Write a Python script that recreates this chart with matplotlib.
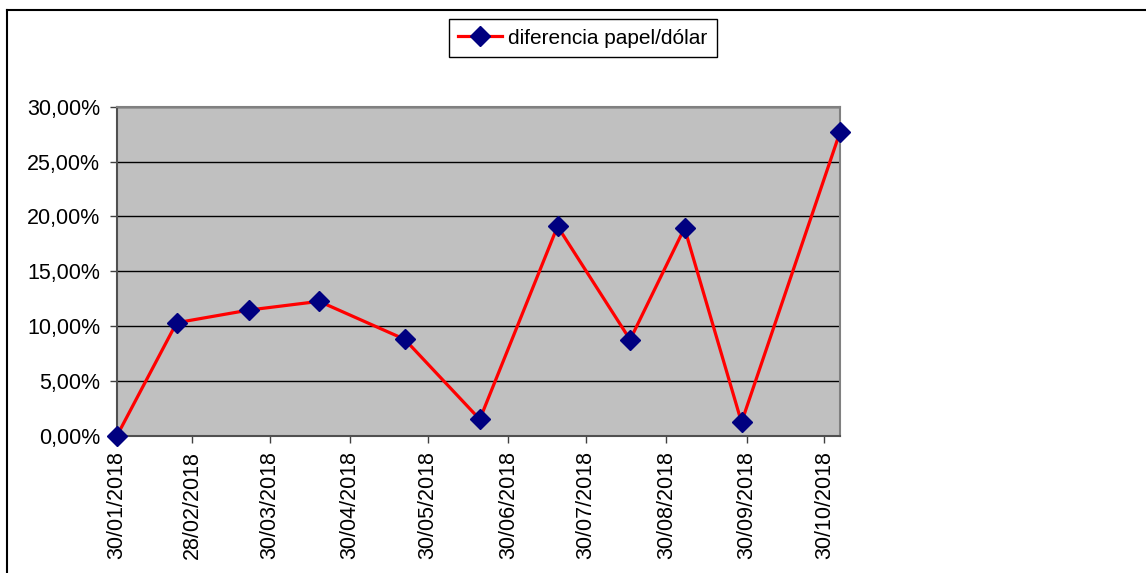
import matplotlib
matplotlib.use("Agg")
import matplotlib.pyplot as plt
import matplotlib.dates as mdates
from matplotlib.ticker import FuncFormatter
from matplotlib.lines import Line2D
from datetime import date

plt.rcParams['font.family'] = ['Liberation Sans', 'DejaVu Sans']

# data
fechas = [date(2018, 1, 30), date(2018, 2, 22), date(2018, 3, 22), date(2018, 4, 18),
          date(2018, 5, 21), date(2018, 6, 19), date(2018, 7, 19), date(2018, 8, 16),
          date(2018, 9, 6), date(2018, 9, 28), date(2018, 11, 5)]
diferencia = [0.0, 10.3, 11.46, 12.25, 8.79, 1.49, 19.09, 8.75, 18.93, 1.22, 27.68]

tick_fechas = [date(2018, 1, 30), date(2018, 2, 28), date(2018, 3, 30), date(2018, 4, 30),
               date(2018, 5, 30), date(2018, 6, 30), date(2018, 7, 30), date(2018, 8, 30),
               date(2018, 9, 30), date(2018, 10, 30)]
y_ticks = [0, 5, 10, 15, 20, 25, 30]

W, H = 1146, 573
fig = plt.figure(figsize=(W / 100, H / 100), dpi=100)
ax = fig.add_axes([117 / W, 1 - 435.7 / H, (840 - 117) / W, (435.7 - 106.7) / H])
ax.set_facecolor('#C0C0C0')

ax.plot(fechas, diferencia, color='red', lw=2.3, marker='D', ms=10,
        mfc='#000080', mec='#000080', zorder=3, clip_on=False,
        label='diferencia papel/dólar')

ax.set_xlim(fechas[0], fechas[-1])
ax.set_ylim(0, 30)
ax.set_yticks(y_ticks)
ax.yaxis.set_major_formatter(FuncFormatter(lambda v, p: f'{v:.2f}%'.replace('.', ',')))
ax.set_xticks(tick_fechas)
ax.xaxis.set_major_formatter(mdates.DateFormatter('%d/%m/%Y'))
ax.grid(axis='y', color='black', lw=1)
ax.set_axisbelow(True)

for lbl in ax.get_xticklabels():
    lbl.set_rotation(90)
ax.tick_params(axis='both', labelsize=15.5, colors='black', length=5, width=1, direction='out')
ax.tick_params(axis='x', pad=6, color='#404040')
ax.tick_params(axis='y', pad=7, color='#404040')
for s in ax.spines.values():
    s.set_color('#808080')
    s.set_linewidth(1.5)
ax.spines['left'].set_color('#505050')
ax.spines['bottom'].set_color('#505050')

handle = Line2D([], [], color='red', lw=2.3, marker='D', ms=10, mfc='#000080', mec='#000080')
leg = fig.legend([handle], ['diferencia papel/dólar'], loc='center',
                 bbox_to_anchor=(583 / W, 1 - 38 / H), fontsize=15, fancybox=False,
                 edgecolor='black', framealpha=1, handlelength=2.1, handletextpad=0.3,
                 borderpad=0.45, borderaxespad=0)
leg.get_frame().set_linewidth(1)

# outer chart border (left and top only visible)
fig.add_artist(Line2D([7 / W, 7 / W], [0, 1 - 10 / H], color='black', lw=1.5))
fig.add_artist(Line2D([7 / W, 1], [1 - 10 / H, 1 - 10 / H], color='black', lw=1.5))

fig.savefig('out.png', dpi=100)
